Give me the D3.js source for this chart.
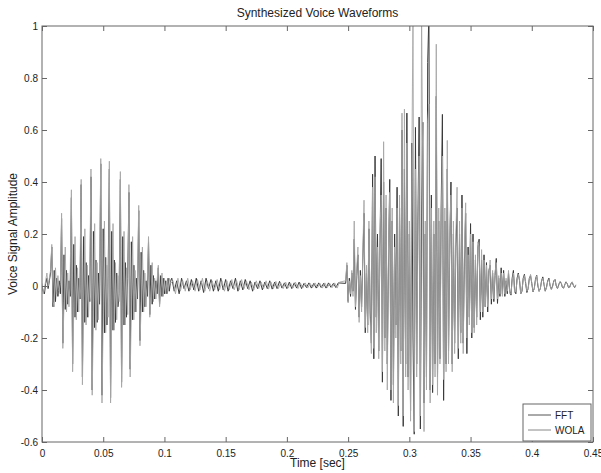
<!DOCTYPE html>
<html>
<head>
<meta charset="utf-8">
<script src="https://cdn.jsdelivr.net/npm/d3@7"></script>
<style>
  body { margin: 0; background: #fff; }
  svg { font-family: "Liberation Sans", Arial, sans-serif; }
</style>
</head>
<body>
<div id="chart"></div>
<script>
// sample spacing of the waveforms (sec)
const fineStep = 0.001;
const quietStep = 0.002;

// segment start times (sec)
const onsetStart = 0;
const fftQuietStart = 0.106;
const wolaQuietStart = 0.107;
const burstStart = 0.248;

// FFT synthesized waveform
const fftOnset = [
  0.00, -0.02, -0.03, 0.01, 0.03, -0.01, 0.02, 0.05,
  0.15, -0.08, 0.06, -0.06, 0.03, -0.04, 0.02, -0.03,
  0.26, -0.22, 0.12, -0.09, 0.06, -0.07, 0.02, -0.04,
  0.34, -0.30, 0.16, -0.12, 0.08, -0.10, 0.03, -0.05,
  0.39, -0.35, 0.19, -0.14, 0.09, -0.12, 0.04, -0.06,
  0.42, -0.40, 0.21, -0.16, 0.10, -0.14, 0.05, -0.07,
  0.47, -0.42, 0.22, -0.18, 0.11, -0.15, 0.04,
  0.45, -0.43, 0.21, -0.17, 0.10, -0.14, 0.05, -0.08, -0.03,
  0.41, -0.37, 0.19, -0.15, 0.09, -0.12, 0.03,
  0.36, -0.32, 0.17, -0.13, 0.08, -0.10, 0.03, -0.05,
  0.29, -0.21, 0.13, -0.10, 0.06, -0.08, 0.02, -0.04,
  0.17, -0.11, 0.08, -0.07, 0.04, -0.05, 0.02, -0.03,
  0.07, -0.07, 0.04, -0.04, 0.03, -0.03, 0.02, -0.03, 0.03, -0.02, 0.02
];
const fftQuiet = [
  0.03, -0.02, 0.02, -0.03, 0.03, -0.01, 0.02, -0.02,
  0.025, -0.015, 0.03, -0.02, 0.02, -0.025, 0.03, -0.01, 0.025, -0.02,
  0.02, -0.02, 0.03, -0.015, 0.025, -0.02, 0.02, -0.01, 0.03, -0.02,
  0.02, -0.015, 0.025, -0.01, 0.02, -0.02, 0.015, -0.01, 0.02, -0.015,
  0.015, -0.01, 0.02, -0.012, 0.015, -0.01, 0.018, -0.008, 0.012, -0.01,
  0.015, -0.01, 0.012, -0.008, 0.015, -0.01, 0.01, -0.006, 0.012, -0.008,
  0.01, -0.008, 0.012, -0.006, 0.01, -0.008, 0.012, -0.005, 0.01, -0.006,
  0.012
];
const fftBurst = [
  0.01, 0.08, -0.06, 0.03, -0.04, 0.05, -0.02, 0.18, -0.09, 0.04,
  0.12, -0.12, 0.06, -0.08, 0.10, 0.28, -0.18, 0.05, -0.15, 0.22,
  -0.10, -0.22, 0.43, -0.28, 0.50, -0.12, 0.20, -0.25, 0.15, 0.49,
  -0.37, 0.40, -0.20, 0.30, -0.30, 0.10, 0.41, -0.44, 0.25, -0.38,
  0.20, -0.15, 0.38, -0.50, 0.30, -0.25, 0.60, -0.54, 0.45, -0.30,
  0.665, -0.35, 0.20, -0.48, 0.55, -0.20, -0.57, 0.61, -0.30, 0.25,
  0.65, -0.55, 0.30, 0.63, -0.45, 0.20, -0.35, 0.86, 1.05, -0.40,
  0.35, -0.41, 0.20, -0.30, 0.73, -0.35, 0.25, -0.28, 0.30, 0.66,
  -0.44, 0.25, -0.30, 0.45, -0.25, 0.15, 0.40, -0.30, 0.20, -0.22,
  0.15, 0.30, -0.28, 0.20, -0.18, 0.35, -0.22, 0.10, 0.28, -0.26,
  0.15, -0.12, 0.24, -0.20, 0.20, -0.16, 0.10, -0.12, 0.15, 0.18,
  -0.13, 0.10, -0.12, 0.12, -0.08, 0.09, -0.10, 0.06, 0.08, -0.07,
  0.05, -0.06, 0.04, 0.106, -0.067, 0.03, -0.04, 0.07, -0.03, 0.06,
  -0.04, 0.02, -0.03, 0.05, -0.02, -0.035, 0.03, 0.06, -0.02, -0.03,
  0.03, 0.05, 0.02, -0.03, -0.02, 0.03, 0.045, 0.01, -0.025, -0.01,
  0.03, 0.04, 0.01, -0.022, -0.01, 0.025, 0.042, 0.0, -0.02, -0.01,
  0.02, 0.035, 0.005, -0.02, -0.005, 0.02, 0.03, 0.0, -0.012, 0.0,
  0.02, 0.025, 0.0, -0.01, 0.005, 0.016, 0.012, -0.005, -0.008, 0.006,
  0.016, 0.008, -0.006, -0.004, 0.01, 0.014, 0.002, -0.006, 0.004
];

// WOLA synthesized waveform
const wolaOnset = [
  0.01, -0.03, -0.01, 0.02, 0.05, 0.00, 0.03, 0.06,
  0.16, -0.06, -0.08, 0.07, -0.03, 0.04, -0.02, 0.01,
  0.28, -0.24, -0.06, 0.15, -0.10, 0.05, -0.08, 0.03,
  0.37, -0.33, -0.08, 0.19, -0.13, 0.07, -0.10, 0.04,
  0.41, -0.38, -0.09, 0.22, -0.15, 0.08, -0.12, 0.04,
  0.45, -0.42, -0.10, 0.24, -0.17, 0.09, -0.13, 0.05,
  0.49, -0.45, -0.11, 0.25, -0.18, 0.08, -0.12,
  0.48, -0.45, -0.10, 0.24, -0.17, 0.09, -0.13, 0.04, -0.06,
  0.44, -0.39, -0.09, 0.21, -0.15, 0.07, -0.11,
  0.39, -0.35, -0.08, 0.19, -0.13, 0.06, -0.10, 0.03,
  0.31, -0.23, -0.06, 0.15, -0.10, 0.05, -0.08, 0.02,
  0.19, -0.12, -0.04, 0.09, -0.06, 0.03, -0.05, 0.02,
  0.08, -0.08, -0.02, 0.05, -0.04, 0.03, -0.03, 0.02, -0.02, 0.03, 0.01
];
const wolaQuiet = [
  0.02, -0.03, 0.03, -0.02, 0.02, -0.02, 0.03, -0.015,
  0.02, -0.02, 0.025, -0.015, 0.03, -0.02, 0.02, -0.02, 0.02, -0.015,
  0.025, -0.015, 0.02, -0.02, 0.02, -0.015, 0.025, -0.015, 0.02, -0.015,
  0.025, -0.01, 0.02, -0.015, 0.015, -0.015, 0.02, -0.01, 0.015, -0.01,
  0.02, -0.012, 0.015, -0.01, 0.018, -0.01, 0.012, -0.01, 0.015, -0.008,
  0.012, -0.008, 0.015, -0.01, 0.012, -0.008, 0.012, -0.008, 0.01, -0.006,
  0.012, -0.006, 0.01, -0.008, 0.012, -0.006, 0.01, -0.006, 0.012, -0.008,
  0.015
];
const wolaBurst = [
  0.02, 0.09, -0.065, 0.02, -0.03, 0.06, -0.04, 0.25, -0.08, 0.06,
  0.15, -0.14, 0.04, -0.10, 0.12, 0.33, -0.16, 0.08, -0.18, 0.25,
  -0.12, -0.26, 0.38, -0.24, 0.42, -0.18, 0.15, -0.28, 0.20, 0.35,
  -0.33, 0.555, -0.25, 0.35, -0.40, 0.15, 0.36, -0.40, 0.30, -0.45,
  0.15, -0.20, 0.30, -0.46, 0.35, -0.30, 0.665, -0.50, 0.68, -0.35,
  0.55, -0.40, 0.25, -0.52, 0.45, 1.05, -0.56, 0.45, -0.35, 0.20,
  0.50, -0.50, 1.05, 0.40, -0.56, 0.25, -0.40, 0.63, 0.70, -0.45,
  0.30, -0.38, 0.25, -0.35, 0.93, -0.42, 0.30, -0.30, 0.25, 0.50,
  -0.36, 0.30, -0.33, 0.56, -0.30, 0.20, 0.35, -0.33, 0.25, -0.26,
  0.20, 0.38, -0.24, 0.25, -0.22, 0.30, -0.26, 0.15, 0.32, -0.20,
  0.12, -0.15, 0.20, -0.18, 0.17, -0.18, 0.12, -0.15, 0.17, 0.15,
  -0.10, 0.14, -0.10, 0.10, -0.08, 0.08, -0.08, 0.05, 0.10, -0.05,
  0.06, -0.05, 0.05, 0.09, -0.05, 0.04, -0.03, 0.05, -0.04, 0.05,
  -0.03, 0.03, -0.02, 0.06, -0.03, -0.03, 0.02, 0.05, -0.025, -0.02,
  0.02, 0.045, 0.025, -0.03, -0.015, 0.025, 0.04, 0.015, -0.02, -0.012,
  0.025, 0.045, 0.012, -0.02, -0.012, 0.02, 0.04, 0.005, -0.022, -0.008,
  0.018, 0.03, 0.008, -0.018, -0.008, 0.018, 0.025, 0.003, -0.015, -0.002,
  0.018, 0.022, 0.002, -0.01, 0.002, 0.018, 0.014, -0.004, -0.008, 0.004,
  0.014, 0.01, -0.005, -0.006, 0.008, 0.016, 0.004, -0.005, 0.005
];

const xTicks = [0, 0.05, 0.1, 0.15, 0.2, 0.25, 0.3, 0.35, 0.4, 0.45];
const yTicks = [-0.6, -0.4, -0.2, 0, 0.2, 0.4, 0.6, 0.8, 1];
const seriesNames = ['FFT', 'WOLA'];
const seriesColors = ['#3a3a3a', '#a6a6a6'];

// turn [start, step, values] segments into {t, v} points
const toPoints = (segs) => {
  const pts = [];
  segs.forEach(([t0, dt, vals]) => {
    vals.forEach((v, i) => pts.push({ t: t0 + i * dt, v }));
  });
  return pts;
};

const fftData = toPoints([
  [onsetStart, fineStep, fftOnset],
  [fftQuietStart, quietStep, fftQuiet],
  [burstStart, fineStep, fftBurst]
]);
const wolaData = toPoints([
  [onsetStart, fineStep, wolaOnset],
  [wolaQuietStart, quietStep, wolaQuiet],
  [burstStart, fineStep, wolaBurst]
]);

const width = 601, height = 473;
const box = { left: 42, right: 593, top: 26, bottom: 442 };

const svg = d3.select('#chart')
  .append('svg')
  .attr('width', width)
  .attr('height', height);

const x = d3.scaleLinear().domain([0, 0.45]).range([box.left, box.right]);
const y = d3.scaleLinear().domain([-0.6, 1]).range([box.bottom, box.top]);

const fmt = d => String(d);
const axisColor = '#666';
const textColor = '#222';

// clip the traces to the plot box
svg.append('clipPath')
  .attr('id', 'plotClip')
  .append('rect')
  .attr('x', box.left).attr('y', box.top)
  .attr('width', box.right - box.left).attr('height', box.bottom - box.top);

const line = d3.line()
  .x(d => x(d.t))
  .y(d => y(d.v));

const traces = svg.append('g').attr('clip-path', 'url(#plotClip)');

// plotted in legend order: FFT first, WOLA over it
traces.append('path')
  .datum(fftData)
  .attr('fill', 'none')
  .attr('stroke', seriesColors[0])
  .attr('stroke-width', 1)
  .attr('d', line);

traces.append('path')
  .datum(wolaData)
  .attr('fill', 'none')
  .attr('stroke', seriesColors[1])
  .attr('stroke-width', 0.9)
  .attr('d', line);

// axes, ticks pointing inward on all four sides
const styleAxis = (g, labels) => {
  g.select('.domain').remove();
  g.selectAll('line').attr('stroke', axisColor);
  g.selectAll('text')
    .style('font-size', '10px')
    .attr('fill', textColor)
    .style('display', labels ? null : 'none');
};

svg.append('g')
  .attr('transform', `translate(0,${box.bottom})`)
  .call(d3.axisBottom(x).tickValues(xTicks).tickSize(-5).tickPadding(6).tickFormat(fmt))
  .call(g => styleAxis(g, true))
  .selectAll('text').attr('dy', '0.9em');

svg.append('g')
  .attr('transform', `translate(0,${box.top})`)
  .call(d3.axisTop(x).tickValues(xTicks).tickSize(-5).tickFormat(fmt))
  .call(g => styleAxis(g, false));

svg.append('g')
  .attr('transform', `translate(${box.left},0)`)
  .call(d3.axisLeft(y).tickValues(yTicks).tickSize(-5).tickPadding(4).tickFormat(fmt))
  .call(g => styleAxis(g, true));

svg.append('g')
  .attr('transform', `translate(${box.right},0)`)
  .call(d3.axisRight(y).tickValues(yTicks).tickSize(-5).tickFormat(fmt))
  .call(g => styleAxis(g, false));

// frame
svg.append('rect')
  .attr('x', box.left).attr('y', box.top)
  .attr('width', box.right - box.left).attr('height', box.bottom - box.top)
  .attr('fill', 'none')
  .attr('stroke', axisColor)
  .attr('stroke-width', 1);

// title and axis labels
svg.append('text')
  .attr('x', (box.left + box.right) / 2)
  .attr('y', 17)
  .attr('text-anchor', 'middle')
  .style('font-size', '12px')
  .attr('fill', textColor)
  .text('Synthesized Voice Waveforms');

svg.append('text')
  .attr('x', (box.left + box.right) / 2)
  .attr('y', 467)
  .attr('text-anchor', 'middle')
  .style('font-size', '12px')
  .attr('fill', textColor)
  .text('Time [sec]');

svg.append('text')
  .attr('transform', `translate(17,${(box.top + box.bottom) / 2}) rotate(-90)`)
  .attr('text-anchor', 'middle')
  .style('font-size', '12px')
  .attr('fill', textColor)
  .text('Voice Signal Amplitude');

// legend
const legendColors = ['#555', '#888'];
const lg = svg.append('g').attr('transform', 'translate(523,404)');
lg.append('rect')
  .attr('width', 68).attr('height', 37)
  .attr('fill', '#fff')
  .attr('stroke', axisColor);

seriesNames.forEach((name, i) => {
  const ly = 11 + i * 15;
  lg.append('line')
    .attr('x1', 5).attr('x2', 28)
    .attr('y1', ly).attr('y2', ly)
    .attr('stroke', legendColors[i]);
  lg.append('text')
    .attr('x', 32).attr('y', ly)
    .attr('dy', '0.35em')
    .style('font-size', '10px')
    .attr('fill', textColor)
    .text(name);
});
</script>
</body>
</html>
